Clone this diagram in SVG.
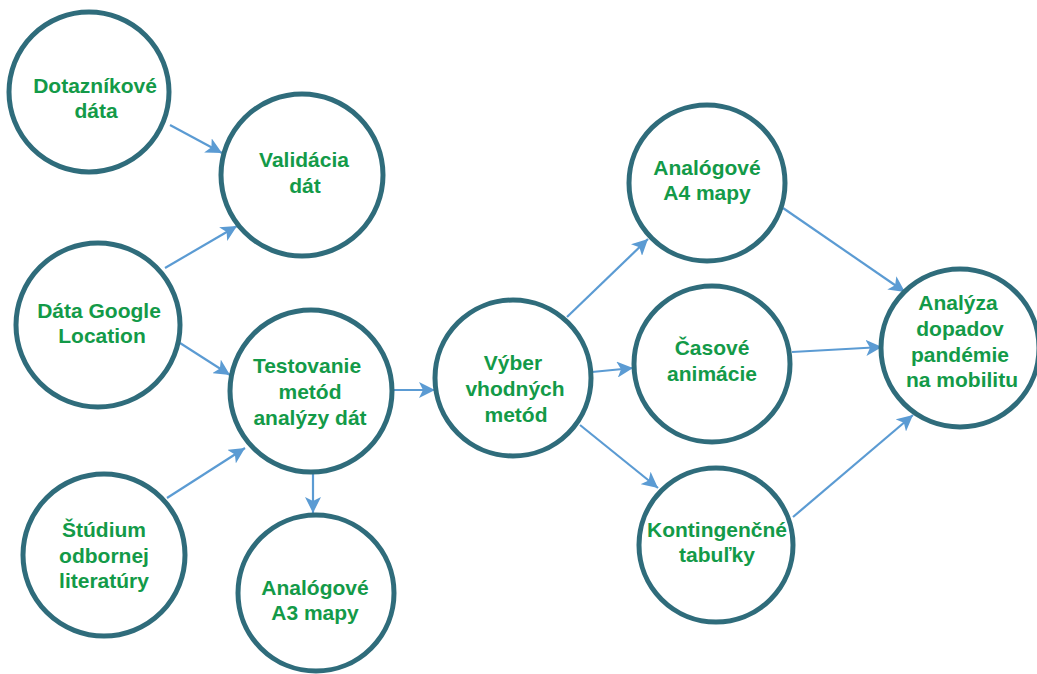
<svg xmlns="http://www.w3.org/2000/svg" width="1037" height="674" viewBox="0 0 1037 674">
<style>
.node circle{fill:#fff;stroke:#2f6c7b;stroke-width:5}
.node text{font-family:"Liberation Sans",Arial,sans-serif;font-weight:bold;font-size:21px;fill:#139a48;text-anchor:middle}
.conn line{stroke:#5b9bd3;stroke-width:2.2;marker-end:url(#ah)}
</style>
<defs>
<marker id="ah" markerUnits="userSpaceOnUse" markerWidth="18" markerHeight="16" refX="16" refY="8" orient="auto">
<path d="M0,0 L16,8 L0,16 L4,8 Z" fill="#5b9bd3"/>
</marker>
</defs>
<rect width="1037" height="674" fill="#fff"/>
<g id="connectors" class="conn">
<line x1="170" y1="125" x2="222" y2="153"/>
<line x1="165" y1="268" x2="237" y2="226"/>
<line x1="180" y1="343" x2="230" y2="375"/>
<line x1="167" y1="498" x2="245" y2="448"/>
<line x1="313" y1="474" x2="313" y2="513"/>
<line x1="393" y1="390" x2="435" y2="390"/>
<line x1="567" y1="317" x2="648" y2="239"/>
<line x1="592" y1="372" x2="633" y2="368"/>
<line x1="580" y1="425" x2="658" y2="488"/>
<line x1="783" y1="208" x2="905" y2="292"/>
<line x1="792" y1="352" x2="882" y2="347"/>
<line x1="793" y1="517" x2="913" y2="415"/>
</g>
<g id="n-dotaznikove" class="node">
<circle cx="89" cy="92" r="80"/>
<text x="95" y="93">Dotazníkové</text>
<text x="96" y="118">dáta</text>
</g>
<g id="n-validacia" class="node">
<circle cx="302" cy="175" r="81"/>
<text x="304" y="167">Validácia</text>
<text x="305" y="193">dát</text>
</g>
<g id="n-google" class="node">
<circle cx="98" cy="325" r="82"/>
<text x="99" y="318">Dáta Google</text>
<text x="102" y="343">Location</text>
</g>
<g id="n-testovanie" class="node">
<circle cx="311" cy="391" r="81"/>
<text x="307" y="373">Testovanie</text>
<text x="310" y="399">metód</text>
<text x="310" y="425">analýzy dát</text>
</g>
<g id="n-studium" class="node">
<circle cx="104" cy="555" r="81"/>
<text x="104" y="537">Štúdium</text>
<text x="104" y="563">odbornej</text>
<text x="104" y="588">literatúry</text>
</g>
<g id="n-a3" class="node">
<circle cx="316" cy="593" r="78"/>
<text x="315" y="595">Analógové</text>
<text x="315" y="620">A3 mapy</text>
</g>
<g id="n-vyber" class="node">
<circle cx="513" cy="378" r="78"/>
<text x="513" y="370">Výber</text>
<text x="515" y="396">vhodných</text>
<text x="516" y="422">metód</text>
</g>
<g id="n-a4" class="node">
<circle cx="707" cy="183" r="78"/>
<text x="707" y="175">Analógové</text>
<text x="707" y="200">A4 mapy</text>
</g>
<g id="n-casove" class="node">
<circle cx="712" cy="364" r="78"/>
<text x="712" y="355">Časové</text>
<text x="712" y="381">animácie</text>
</g>
<g id="n-kontingencne" class="node">
<circle cx="716" cy="545" r="77"/>
<text x="717" y="537">Kontingenčné</text>
<text x="717" y="562">tabuľky</text>
</g>
<g id="n-analyza" class="node">
<circle cx="960" cy="348" r="79"/>
<text x="958" y="310">Analýza</text>
<text x="960" y="336">dopadov</text>
<text x="960" y="362">pandémie</text>
<text x="962" y="387">na mobilitu</text>
</g>
</svg>
